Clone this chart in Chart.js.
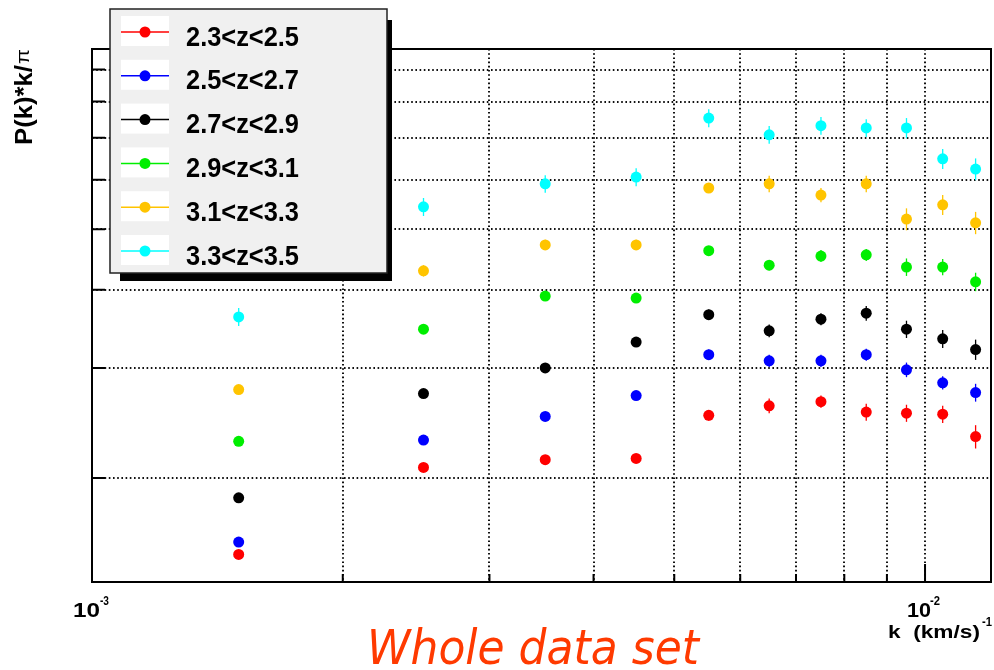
<!DOCTYPE html>
<html>
<head>
<meta charset="utf-8">
<title>P(k) whole data set</title>
<script src="https://cdn.jsdelivr.net/npm/chart.js@4/dist/chart.umd.min.js"></script>
<style>
  html, body { margin: 0; padding: 0; background: #fff; }
  canvas { display: block; }
</style>
</head>
<body>
<canvas id="pkChart" width="994" height="670"></canvas>
<script>
// k bins (km/s)^-1
const kValues = [0.0015, 0.0025, 0.0035, 0.0045, 0.0055, 0.0065, 0.0075, 0.0085, 0.0095, 0.0105, 0.0115];

const zLabels = ['2.3<z<2.5', '2.5<z<2.7', '2.7<z<2.9', '2.9<z<3.1', '3.1<z<3.3', '3.3<z<3.5'];
const zColors = ['#ff0000', '#0000ff', '#000000', '#00ee00', '#ffc400', '#00ffff'];

// P(k)*k/pi (arbitrary units, no tick labels in the original)
const pk_23_25 = [1.51, 2.08, 2.14, 2.15, 2.52, 2.61, 2.65, 2.55, 2.54, 2.53, 2.33];
const pk_25_27 = [1.58, 2.30, 2.51, 2.71, 3.15, 3.08, 3.08, 3.15, 2.98, 2.84, 2.74];
const pk_27_29 = [1.86, 2.73, 3.00, 3.30, 3.65, 3.44, 3.59, 3.67, 3.46, 3.34, 3.21];
const pk_29_31 = [2.29, 3.46, 3.91, 3.88, 4.62, 4.38, 4.53, 4.55, 4.35, 4.35, 4.12];
const pk_31_33 = [2.77, 4.29, 4.72, 4.72, 5.82, 5.91, 5.67, 5.91, 5.19, 5.47, 5.12];
const pk_33_35 = [3.62, 5.43, 5.91, 6.06, 7.53, 7.08, 7.32, 7.26, 7.26, 6.48, 6.24];

// error bars
const err_23_25 = [0.01, 0.02, 0.02, 0.02, 0.05, 0.07, 0.06, 0.08, 0.08, 0.08, 0.10];
const err_25_27 = [0.01, 0.03, 0.04, 0.04, 0.06, 0.07, 0.07, 0.07, 0.08, 0.07, 0.09];
const err_27_29 = [0.02, 0.04, 0.05, 0.06, 0.07, 0.08, 0.08, 0.10, 0.11, 0.11, 0.12];
const err_29_31 = [0.03, 0.05, 0.06, 0.06, 0.08, 0.08, 0.10, 0.10, 0.14, 0.13, 0.14];
const err_31_33 = [0.04, 0.09, 0.09, 0.09, 0.10, 0.18, 0.15, 0.18, 0.21, 0.20, 0.21];
const err_33_35 = [0.12, 0.18, 0.19, 0.20, 0.25, 0.23, 0.24, 0.24, 0.27, 0.24, 0.25];

const pkSeries = [pk_23_25, pk_25_27, pk_27_29, pk_29_31, pk_31_33, pk_33_35];
const errSeries = [err_23_25, err_25_27, err_27_29, err_29_31, err_31_33, err_33_35];

const xRange = [0.001, 0.012];
const yRange = [1.364, 9.71];
const xGrid = [0.002, 0.003, 0.004, 0.005, 0.006, 0.007, 0.008, 0.009, 0.01];
const yGrid = [2, 3, 4, 5, 6, 7, 8, 9];

const SANS = '"Liberation Sans", Arial, sans-serif';

// draw text squeezed/stretched to a given width
function fitText(ctx, str, x, y, font, width, sy, color) {
    ctx.save();
    ctx.font = font;
    const w = ctx.measureText(str).width;
    ctx.translate(x, y);
    ctx.scale(width / w, sy || 1);
    ctx.fillStyle = color || '#000';
    ctx.textAlign = 'left';
    ctx.textBaseline = 'alphabetic';
    ctx.fillText(str, 0, 0);
    ctx.restore();
}

const errorBars = {
    id: 'errorBars',
    beforeDatasetsDraw(chart) {
        const ctx = chart.ctx;
        const ys = chart.scales.y;
        ctx.save();
        chart.data.datasets.forEach((ds, di) => {
            const meta = chart.getDatasetMeta(di);
            ctx.strokeStyle = ds.backgroundColor;
            ctx.lineWidth = 1.3;
            meta.data.forEach((pt, i) => {
                const v = ds.data[i].y, e = ds.errors[i];
                ctx.beginPath();
                ctx.moveTo(pt.x, ys.getPixelForValue(v - e));
                ctx.lineTo(pt.x, ys.getPixelForValue(v + e));
                ctx.stroke();
            });
        });
        ctx.restore();
    }
};

const frameAndText = {
    id: 'frameAndText',
    afterDraw(chart) {
        const ctx = chart.ctx;
        const a = chart.chartArea;
        const xs = chart.scales.x, ys = chart.scales.y;
        ctx.save();

        // frame
        ctx.strokeStyle = '#000';
        ctx.lineWidth = 2;
        ctx.strokeRect(a.left, a.top, a.right - a.left, a.bottom - a.top);

        // tick marks
        ctx.beginPath();
        yGrid.forEach(v => {
            const py = ys.getPixelForValue(v);
            ctx.moveTo(a.left, py);
            ctx.lineTo(a.left + 13, py);
        });
        xGrid.forEach(v => {
            const px = xs.getPixelForValue(v);
            const len = v === 0.01 ? 18 : 8;
            ctx.moveTo(px, a.bottom);
            ctx.lineTo(px, a.bottom - len);
        });
        ctx.stroke();

        // x tick labels
        const x3 = xs.getPixelForValue(0.001);
        const x2 = xs.getPixelForValue(0.01);
        fitText(ctx, '10', x3 - 19, 617, 'bold 21px ' + SANS, 27);
        fitText(ctx, '-3', x3 + 8, 605, 'bold 12px ' + SANS, 9);
        fitText(ctx, '10', x2 - 18, 617, 'bold 21px ' + SANS, 24);
        fitText(ctx, '-2', x2 + 5, 605, 'bold 12px ' + SANS, 10);

        // x axis title
        fitText(ctx, 'k  (km/s)', 888, 638, 'bold 19px ' + SANS, 92);
        fitText(ctx, '-1', 982, 626, 'bold 12px ' + SANS, 10);

        // y axis title, rotated
        ctx.save();
        ctx.translate(32, 145);
        ctx.rotate(-Math.PI / 2);
        fitText(ctx, 'P(k)*k/', 0, 0, 'bold 24px ' + SANS, 80);
        fitText(ctx, 'π', 81, -3, '19px ' + SANS, 15);
        ctx.restore();

        // bottom caption
        fitText(ctx, 'Whole data set', 367, 664, 'italic 48px "DejaVu Sans", sans-serif', 332, 1, '#ff3a00');

        // legend box with shadow
        const lx = 110, ly = 9, lw = 277, lh = 264;
        ctx.fillStyle = '#000';
        ctx.fillRect(lx + 10, ly + lh, lw - 5, 8);
        ctx.fillRect(lx + lw, ly + 11, 5, lh + 8 - 11);
        ctx.fillStyle = '#f0f0f0';
        ctx.fillRect(lx, ly, lw, lh);
        ctx.lineWidth = 1.5;
        ctx.strokeStyle = '#222';
        ctx.strokeRect(lx, ly, lw, lh);

        chart.data.datasets.forEach((ds, i) => {
            const cy = 32 + i * 43.8;
            ctx.fillStyle = '#fff';
            ctx.fillRect(121, cy - 16, 48, 30);
            ctx.strokeStyle = ds.backgroundColor;
            ctx.lineWidth = 1.5;
            ctx.beginPath();
            ctx.moveTo(121, cy);
            ctx.lineTo(169, cy);
            ctx.stroke();
            ctx.fillStyle = ds.backgroundColor;
            ctx.beginPath();
            ctx.arc(145, cy, 5.5, 0, Math.PI * 2);
            ctx.fill();
            fitText(ctx, ds.label, 186, cy + 13.5, 'bold 22.5px ' + SANS, 113, 1.25);
        });

        ctx.restore();
    }
};

const datasets = zLabels.map((label, i) => ({
    label: label,
    data: kValues.map((k, j) => ({ x: k, y: pkSeries[i][j] })),
    errors: errSeries[i],
    backgroundColor: zColors[i],
    borderColor: zColors[i],
    pointRadius: 5.5,
    pointBorderWidth: 0,
    showLine: false
}));

function gridAxis(range, ticks) {
    return {
        type: 'logarithmic',
        min: range[0],
        max: range[1],
        afterBuildTicks: scale => { scale.ticks = ticks.map(v => ({ value: v })); },
        ticks: { display: false },
        grid: { color: '#111', lineWidth: 2, drawTicks: false },
        border: { display: false, dash: [1.6, 2.6] }
    };
}

new Chart(document.getElementById('pkChart').getContext('2d'), {
    type: 'scatter',
    data: { datasets: datasets },
    options: {
        responsive: false,
        animation: false,
        layout: {
            autoPadding: false,
            padding: { left: 92, top: 49, right: 3, bottom: 88 }
        },
        plugins: {
            legend: { display: false },
            tooltip: { enabled: false }
        },
        scales: {
            x: gridAxis(xRange, xGrid),
            y: gridAxis(yRange, yGrid)
        }
    },
    plugins: [errorBars, frameAndText]
});
</script>
</body>
</html>
